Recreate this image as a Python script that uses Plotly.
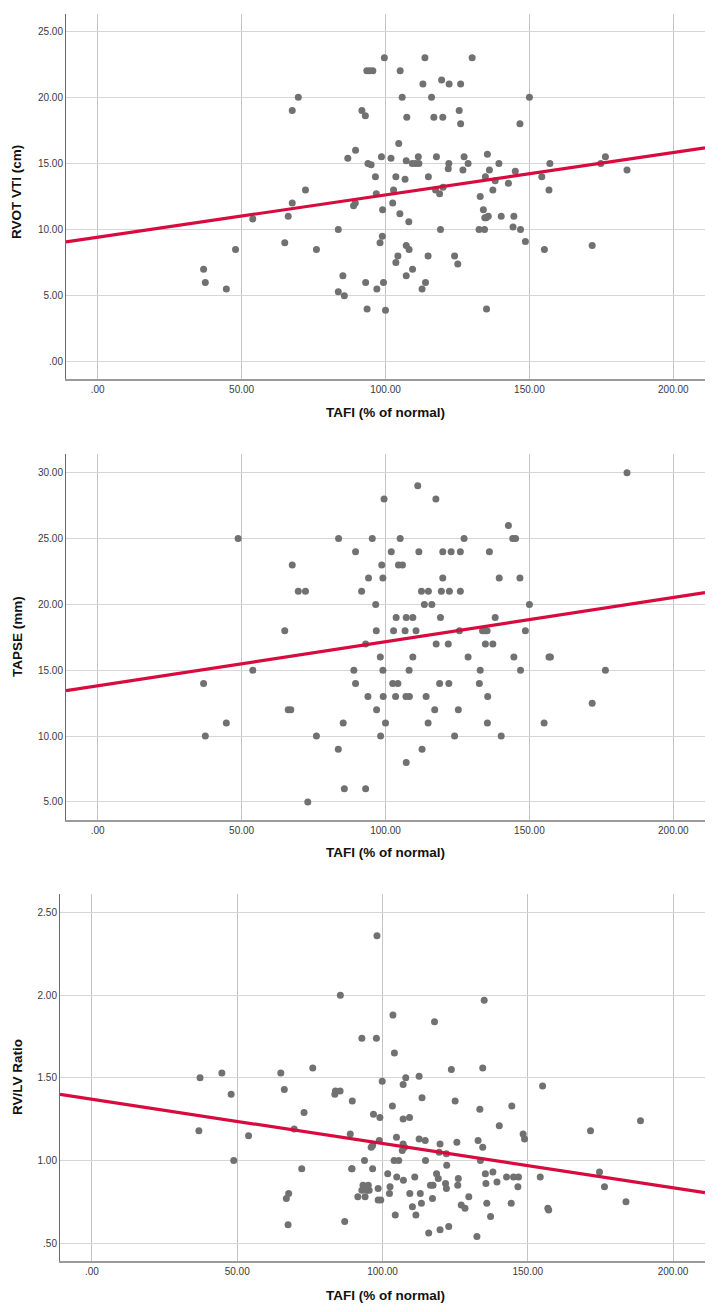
import numpy as np
import plotly.graph_objects as go

# ---------------- data ----------------
# Panel 1: RVOT VTI (cm) vs TAFI (% of normal)
tafi_1 = [36.8, 37.4, 44.7, 47.9, 53.9, 65.0, 66.2, 67.6, 67.6, 69.7, 72.2, 76.0, 83.6, 83.6, 85.2, 85.7,
          86.9, 89.6, 88.9, 89.5,
          91.8, 93.0, 93.5, 94.5, 95.6, 99.6, 105.1, 113.7, 130.1, 113.0, 119.5, 122.1, 126.1, 105.8, 116.0,
          125.6, 126.1, 107.4, 116.8, 119.9, 104.6, 93.9, 95.0, 98.6, 101.9, 107.2, 109.3, 110.4, 111.6,
          111.4, 117.7, 122.0, 121.8, 127.3, 128.7, 126.9, 96.5, 103.6, 106.8, 114.9, 96.8, 102.8, 117.4,
          118.8, 120.0, 102.5, 132.9, 99.0, 105.0, 108.1, 119.1, 132.5, 134.4, 98.9, 98.1, 107.2, 108.2,
          104.3, 114.8, 124.0, 125.1, 103.6, 107.2, 109.4, 93.1, 99.3, 97.0, 113.9, 112.7, 93.6, 100.0, 135.1,
          134.0, 134.5, 135.0, 135.7, 135.4, 134.7, 136.1, 138.1, 137.3, 139.4, 140.2, 142.7, 144.6, 144.3,
          145.1, 146.7, 146.9, 148.6, 150.0, 154.3, 155.2, 156.8, 157.1, 171.8, 174.8, 176.4, 183.9]
rvot_vti = [7.0, 6.0, 5.5, 8.5, 10.8, 9.0, 11.0, 12.0, 19.0, 20.0, 13.0, 8.5, 10.0, 5.3, 6.5, 5.0,
            15.4, 16.0, 11.8, 12.0,
            19.0, 18.6, 22.0, 22.0, 22.0, 23.0, 22.0, 23.0, 23.0, 21.0, 21.3, 21.0, 21.0, 20.0, 20.0,
            19.0, 18.0, 18.5, 18.5, 18.5, 16.5, 15.0, 14.9, 15.5, 15.4, 15.2, 15.0, 15.0, 15.0,
            15.5, 15.5, 15.0, 14.6, 15.5, 15.0, 14.5, 14.0, 14.0, 13.8, 14.0, 12.7, 13.0, 13.0,
            12.7, 13.2, 12.0, 12.5, 11.5, 11.2, 10.6, 10.0, 10.0, 10.0, 9.5, 9.0, 8.8, 8.5,
            8.0, 8.0, 8.0, 7.4, 7.5, 6.5, 7.0, 6.0, 6.0, 5.5, 6.0, 5.5, 4.0, 3.9, 4.0,
            11.5, 10.9, 10.9, 11.0, 15.7, 14.0, 14.5, 13.7, 13.0, 15.0, 11.0, 13.5, 11.0, 10.2,
            14.4, 18.0, 10.0, 9.1, 20.0, 14.0, 8.5, 13.0, 15.0, 8.8, 15.0, 15.5, 14.5]

# Panel 2: TAPSE (mm) vs TAFI
tafi_2 = [36.8, 37.4, 44.7, 48.8, 53.9, 65.0, 66.2, 67.1, 67.6, 69.7, 72.2, 73.0, 76.0, 83.7, 83.6, 85.3,
          85.7, 89.0, 89.6, 89.6, 91.7,
          111.2, 99.5, 117.5, 95.4, 105.1, 127.3, 102.0, 111.6, 119.9, 122.8, 126.0, 98.7, 104.5, 105.9,
          94.1, 99.1, 119.9, 112.5, 114.9, 119.4, 122.2, 126.0, 96.6, 113.5, 116.1, 103.7, 107.2, 109.5,
          119.1, 96.8, 102.8, 106.8, 110.6, 125.7, 93.1, 117.6, 121.8, 98.2, 109.5, 128.7, 99.1, 108.2,
          132.9, 102.5, 104.3, 118.8, 122.0, 132.6, 93.9, 99.2, 103.5, 107.1, 108.3, 114.1, 96.9, 117.1,
          125.3, 100.0, 114.8, 98.3, 124.0, 112.7, 107.2, 93.1,
          142.7, 144.2, 145.2, 136.1, 139.5, 146.7, 150.0, 138.1, 133.7, 134.6, 135.3, 148.6, 134.7, 137.3,
          144.6, 156.8, 157.3, 146.9, 176.4, 135.5, 135.4, 155.1, 140.2, 171.8, 183.9]
tapse = [14, 10, 11, 25, 15, 18, 12, 12, 23, 21, 21, 5, 10, 25, 9, 11,
         6, 15, 14, 24, 21,
         29, 28, 28, 25, 25, 25, 24, 24, 24, 24, 24, 23, 23, 23,
         22, 22, 22, 21, 21, 21, 21, 21, 20, 20, 20, 19, 19, 19,
         19, 18, 18, 18, 18, 18, 17, 17, 17, 16, 16, 16, 15, 15,
         15, 14, 14, 14, 14, 14, 13, 13, 13, 13, 13, 13, 12, 12,
         12, 11, 11, 10, 10, 9, 8, 6,
         26, 25, 25, 24, 22, 22, 20, 19, 18, 18, 18, 18, 17, 17,
         16, 16, 16, 15, 15, 13, 11, 11, 10, 12.5, 30]

# Panel 3: RV/LV ratio vs TAFI
tafi_3 = [37.2, 36.8, 44.7, 47.9, 48.8, 53.9, 65.0, 66.2, 66.9, 67.7, 67.5, 69.6, 72.2, 73.0, 76.0, 83.6,
          83.8, 85.4, 85.5, 87.0, 88.9, 89.5, 89.6,
          98.1, 103.6, 117.9, 92.9, 97.9, 104.1, 123.7, 99.9, 108.0, 112.6, 107.1, 113.6, 125.0, 103.4,
          96.9, 99.1, 107.1, 109.3, 133.5, 96.1, 96.6, 98.9, 104.8, 107.1, 106.8, 107.6, 112.6, 114.7,
          119.8, 119.5, 122.0, 125.6, 132.9, 93.8, 104.0, 105.6, 114.8, 122.1, 89.4, 96.6, 101.8, 104.9,
          107.2, 111.1, 118.6, 119.2, 126.1, 125.9, 121.7, 122.0, 116.5, 117.4, 102.6, 92.9, 93.3, 95.1,
          95.4, 94.7, 98.5, 102.4, 109.4, 113.0, 91.5, 94.0, 98.5, 99.4, 117.2, 113.4, 110.3, 127.1,
          128.4, 129.7, 104.4, 111.5, 115.9, 119.8, 122.8, 132.5,
          135.0, 134.5, 155.1, 144.5, 140.2, 148.4, 148.9, 171.6, 188.8, 134.5, 133.7, 135.4, 138.0, 135.6,
          139.4, 142.7, 145.1, 146.8, 146.6, 154.3, 174.7, 176.4, 135.9, 144.3, 137.2, 156.9, 157.2, 183.8]
rv_lv = [1.50, 1.18, 1.53, 1.40, 1.00, 1.15, 1.53, 1.43, 0.77, 0.80, 0.61, 1.19, 0.95, 1.29, 1.56, 1.40,
         1.42, 1.42, 2.00, 0.63, 1.16, 0.95, 1.36,
         2.36, 1.88, 1.84, 1.74, 1.74, 1.65, 1.55, 1.48, 1.50, 1.51, 1.46, 1.38, 1.36, 1.33,
         1.28, 1.26, 1.25, 1.26, 1.31, 1.08, 1.09, 1.12, 1.14, 1.10, 1.06, 1.08, 1.13, 1.12,
         1.10, 1.05, 1.04, 1.11, 1.12, 1.00, 1.00, 1.00, 1.00, 0.97, 0.95, 0.95, 0.92, 0.90,
         0.88, 0.90, 0.92, 0.89, 0.89, 0.85, 0.86, 0.83, 0.85, 0.85, 0.84, 0.82, 0.85, 0.85,
         0.82, 0.82, 0.83, 0.80, 0.80, 0.80, 0.78, 0.78, 0.76, 0.76, 0.77, 0.74, 0.72, 0.73,
         0.71, 0.78, 0.67, 0.67, 0.56, 0.58, 0.60, 0.54,
         1.97, 1.56, 1.45, 1.33, 1.21, 1.16, 1.13, 1.18, 1.24, 1.08, 1.00, 0.92, 0.93, 0.86,
         0.87, 0.90, 0.90, 0.90, 0.84, 0.90, 0.93, 0.84, 0.74, 0.74, 0.66, 0.71, 0.70, 0.75]

# Fit lines (intercept, slope)
fit_1 = (9.42, 0.0320)
fit_2 = (13.82, 0.0335)
fit_3 = (1.370, -0.00268)

# Tick labels
x_tickvals = [0, 50, 100, 150, 200]
x_ticktext = [".00", "50.00", "100.00", "150.00", "200.00"]
y1_tickvals = [0, 5, 10, 15, 20, 25]
y1_ticktext = [".00", "5.00", "10.00", "15.00", "20.00", "25.00"]
y2_tickvals = [5, 10, 15, 20, 25, 30]
y2_ticktext = ["5.00", "10.00", "15.00", "20.00", "25.00", "30.00"]
y3_tickvals = [0.5, 1.0, 1.5, 2.0, 2.5]
y3_ticktext = [".50", "1.00", "1.50", "2.00", "2.50"]

x_title = "TAFI (% of normal)"
y_titles = ["RVOT VTI (cm)", "TAPSE (mm)", "RV/LV Ratio"]

# ---------------- figure ----------------
# The page body has an 8px margin, so the figure is sized to fit the window exactly.
OFF = 8
W, H = 721 - 2 * OFF, 1312 - 2 * OFF
XR = [-11.0, 211.0]

def px(v):
    return (v - OFF) / W

def py(v):
    return 1 - (v - OFF) / H

panels = [
    dict(x=tafi_1, y=rvot_vti, fit=fit_1, yr=[-1.3, 26.3], tv=y1_tickvals, tt=y1_ticktext,
         left=66, top=14, bottom=379, xt_y=412, yt_y=192),
    dict(x=tafi_2, y=tapse, fit=fit_2, yr=[3.63, 31.42], tv=y2_tickvals, tt=y2_ticktext,
         left=66, top=454, bottom=820, xt_y=853, yt_y=637),
    dict(x=tafi_3, y=rv_lv, fit=fit_3, yr=[0.391, 2.613], tv=y3_tickvals, tt=y3_ticktext,
         left=60, top=894, bottom=1261, xt_y=1295, yt_y=1077),
]

fig = go.Figure()
MARKER = "#717171"
LINE = "#d80b3f"
tick_font = dict(family="Liberation Sans, Arial", size=10, color="#3a3a3a")
title_font = dict(family="Liberation Sans, Arial", size=13.5, color="#111111")

annotations = []
for i, p in enumerate(panels):
    n = "" if i == 0 else str(i + 1)
    xa, ya = "x" + n, "y" + n
    fig.add_trace(go.Scatter(x=p["x"], y=p["y"], mode="markers", xaxis=xa, yaxis=ya,
                             marker=dict(color=MARKER, size=7, line=dict(width=0)),
                             showlegend=False, hoverinfo="x+y"))
    b0, b1 = p["fit"]
    xf = np.linspace(XR[0], XR[1], 50)
    fig.add_trace(go.Scatter(x=xf, y=b0 + b1 * xf, mode="lines", xaxis=xa, yaxis=ya,
                             line=dict(color=LINE, width=3.2), showlegend=False, hoverinfo="skip"))
    fig.layout["xaxis" + n] = dict(
        domain=[px(p["left"]), px(705)], range=XR, anchor=ya,
        tickvals=x_tickvals, ticktext=x_ticktext, tickfont=tick_font, ticks="",
        showgrid=True, gridcolor="#c4c4c4", gridwidth=1, zeroline=False,
        showline=True, linecolor="#9a9a9a", linewidth=2, fixedrange=True)
    fig.layout["yaxis" + n] = dict(
        domain=[py(p["bottom"]), py(p["top"])], range=p["yr"], anchor=xa,
        tickvals=p["tv"], ticktext=p["tt"], tickfont=tick_font, ticks="",
        showgrid=True, gridcolor="#d6d6d6", gridwidth=1, zeroline=False,
        showline=True, linecolor="#6a6a6a", linewidth=1, fixedrange=True)
    annotations.append(dict(text="<b>" + x_title + "</b>", x=px(385), y=py(p["xt_y"]),
                            xref="paper", yref="paper", showarrow=False, font=title_font,
                            xanchor="center", yanchor="middle"))
    annotations.append(dict(text="<b>" + y_titles[i] + "</b>", x=px(17), y=py(p["yt_y"]),
                            xref="paper", yref="paper", showarrow=False, font=title_font,
                            textangle=-90, xanchor="center", yanchor="middle"))

fig.update_layout(width=W, height=H, margin=dict(l=0, r=0, t=0, b=0),
                  paper_bgcolor="white", plot_bgcolor="white",
                  annotations=annotations, showlegend=False)

fig.write_html("out.html")
